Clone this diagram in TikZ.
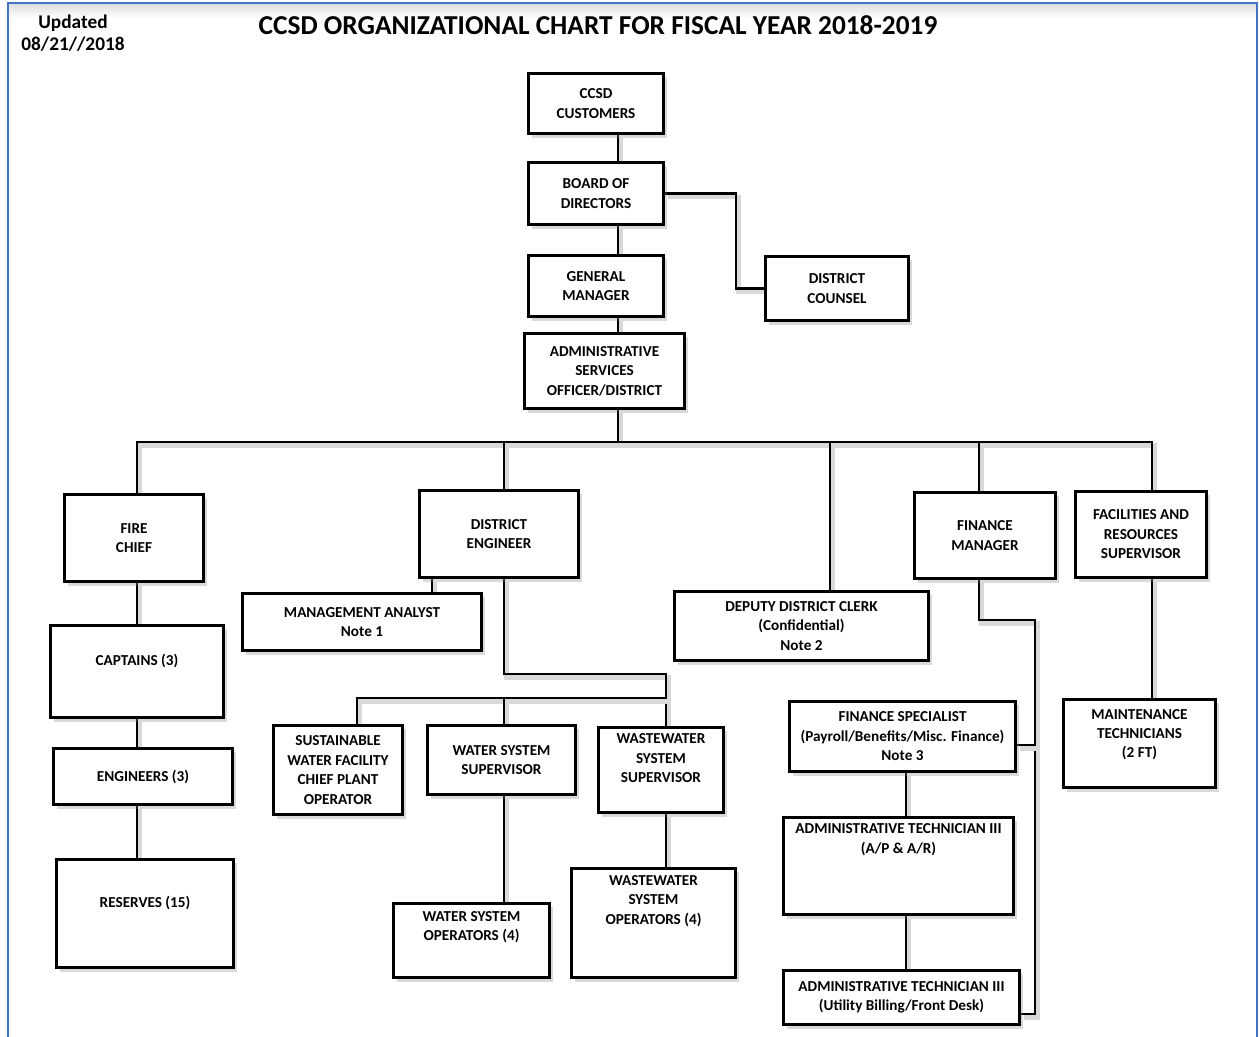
\documentclass[tikz,border=0pt]{standalone}
\usepackage{fontspec}
\setmainfont{Carlito}
\usepackage{tikz}
\usetikzlibrary{backgrounds}
\usetikzlibrary{shapes,shadows,calc}

\definecolor{frameblue}{RGB}{68,114,196}

\begin{document}
\begin{tikzpicture}[x=0.75pt, y=-0.75pt, line join=miter, font=\bfseries\fontsize{11.4}{14.6}\selectfont]
 % Define block styles
	\tikzstyle{block} = [rectangle, draw, line width=2.2pt, fill=white, align=center, inner sep=2pt, drop shadow={shadow xshift=2.5pt, shadow yshift=-3pt, opacity=0.3}]
	\tikzstyle{line} = [draw, line width=2.2pt, preaction={draw=black!15, line width=3.5pt, transform canvas={shift={(2pt,-2.5pt)}}}]
	\tikzset{boxsize/.style 2 args={minimum width=#1*0.75pt-2.2pt, minimum height=#2*0.75pt-2.2pt},
		lift/.style={text depth=#1}}
%%====Cornice e titolo===============================================================
	\useasboundingbox (0,0) rectangle (1259,1036);
	\shade [top color=black!13, bottom color=white] (9,4) rectangle (1256,18);
	\draw [frameblue, line width=1.6pt] (8,1040) -- (8,3) -- (1257,3) -- (1257,1040);
	\node (title) at (598,25) {\fontsize{20.5}{24}\selectfont CCSD ORGANIZATIONAL CHART FOR FISCAL YEAR 2018-2019};
	\node [align=center, font=\bfseries\fontsize{14.5}{17}\selectfont] (updated) at (73,33) {Updated\\08/21//2018};
%%====Definizione stati e posizione===============================================================
	\node [block, boxsize={138}{63}] (cust) at (596,103.5) {CCSD\\CUSTOMERS};
	\node [block, boxsize={138}{65}] (board) at (596,193.5) {BOARD OF\\DIRECTORS};
	\node [block, boxsize={138}{64}] (gm) at (596,286) {GENERAL\\MANAGER};
	\node [block, boxsize={163}{78}] (aso) at (604.5,371) {ADMINISTRATIVE\\SERVICES\\OFFICER/DISTRICT};
	\node [block, boxsize={146}{67}] (counsel) at (837,288.5) {DISTRICT\\COUNSEL};
	% fire
	\node [block, boxsize={142}{90}] (fire) at (134,538) {FIRE\\CHIEF};
	\node [block, boxsize={176}{95}, lift=17pt] (capt) at (137,671.5) {CAPTAINS (3)};
	\node [block, boxsize={182}{59}] (eng) at (143,776.5) {ENGINEERS (3)};
	\node [block, boxsize={180}{111}, lift=17pt] (res) at (145,913.5) {RESERVES (15)};
	% engineering
	\node [block, boxsize={162}{90}] (de) at (499,534) {DISTRICT\\ENGINEER};
	\node [block, boxsize={242}{60}] (ma) at (362,622) {MANAGEMENT ANALYST\\Note 1};
	\node [block, boxsize={132}{92}] (swf) at (338,770) {SUSTAINABLE\\WATER FACILITY\\CHIEF PLANT\\OPERATOR};
	\node [block, boxsize={151}{72}] (wss) at (501.5,760) {WATER SYSTEM\\SUPERVISOR};
	\node [block, boxsize={128}{88}, lift=18pt] (wwss) at (661,770) {WASTEWATER\\SYSTEM\\SUPERVISOR};
	\node [block, boxsize={159}{77}, lift=22pt] (wso) at (471.5,940.5) {WATER SYSTEM\\OPERATORS (4)};
	\node [block, boxsize={167}{112}, lift=35pt] (wwso) at (653.5,923) {WASTEWATER\\SYSTEM\\OPERATORS (4)};
	% clerk, finance, facilities
	\node [block, boxsize={257}{72}] (ddc) at (801.5,626) {DEPUTY DISTRICT CLERK\\(Confidential)\\Note 2};
	\node [block, boxsize={144}{89}] (fm) at (985,535.5) {FINANCE\\MANAGER};
	\node [block, boxsize={134}{89}] (fac) at (1141,534.5) {FACILITIES AND\\RESOURCES\\SUPERVISOR};
	\node [block, boxsize={229}{73}] (fs) at (902.5,736.5) {FINANCE SPECIALIST\\(Payroll/Benefits/Misc. Finance)\\Note 3};
	\node [block, boxsize={155}{91}, lift=15pt] (mt) at (1139.5,743.5) {MAINTENANCE\\TECHNICIANS\\(2 FT)};
	\node [block, boxsize={233}{100}, lift=41pt] (at1) at (898.5,866) {ADMINISTRATIVE TECHNICIAN III\\(A/P \& A/R)};
	\node [block, boxsize={239}{57}] (at2) at (901.5,997.5) {ADMINISTRATIVE TECHNICIAN III\\(Utility Billing/Front Desk)};
%%====Collegamenti===============================================================
	\coordinate (spine) at (618,0);
	\coordinate (cbend) at (736,0);
	\coordinate (bus) at (0,442);
	\coordinate (cfire) at (137,0);
	\coordinate (ceng) at (504,0);
	\coordinate (cma) at (432,0);
	\coordinate (csus) at (357,0);
	\coordinate (cww) at (666,0);
	\coordinate (knee) at (0,674);
	\coordinate (bus2) at (0,698);
	\coordinate (cclerk) at (830,0);
	\coordinate (cfin) at (979,0);
	\coordinate (cfinbus) at (1035,0);
	\coordinate (fknee) at (0,620);
	\coordinate (fbranch) at (0,745);
	\coordinate (fend) at (0,1014);
	\coordinate (cadm) at (906,0);
	\coordinate (cfac) at (1152,0);
	\begin{scope}[on background layer]
	\path [line] (cust.south -| spine) -- (board.north -| spine);
	\path [line] (board.south -| spine) -- (gm.north -| spine);
	\path [line] (gm.south -| spine) -- (aso.north -| spine);
	\path [line] (board.east) -| (cbend |- counsel.west) -- (counsel.west);
	\path [line] (aso.south -| spine) -- (bus -| spine);
	\path [line] (fire.north -| cfire) -- (bus -| cfire) -- (bus -| cfac) -- (fac.north -| cfac);
	\path [line] (bus -| ceng) -- (de.north -| ceng);
	\path [line] (bus -| cclerk) -- (ddc.north -| cclerk);
	\path [line] (bus -| cfin) -- (fm.north -| cfin);
	% fire
	\path [line] (fire.south -| cfire) -- (capt.north -| cfire);
	\path [line] (capt.south -| cfire) -- (eng.north -| cfire);
	\path [line] (eng.south -| cfire) -- (res.north -| cfire);
	% engineering
	\path [line] (de.south -| cma) -- (ma.north -| cma);
	\path [line] (de.south -| ceng) -- (knee -| ceng) -- (knee -| cww) -- (wwss.north -| cww);
	\path [line] (swf.north -| csus) -- (bus2 -| csus) -- (bus2 -| cww);
	\path [line] (bus2 -| ceng) -- (wss.north -| ceng);
	\path [line] (wss.south -| ceng) -- (wso.north -| ceng);
	\path [line] (wwss.south -| cww) -- (wwso.north -| cww);
	% finance
	\path [line] (fm.south -| cfin) -- (fknee -| cfin) -- (fknee -| cfinbus) -- (fend -| cfinbus) -- (fend -| at2.east);
	\path [line] (fbranch -| fs.east) -- (fbranch -| cfinbus);
	\path [line] (fs.south -| cadm) -- (at1.north -| cadm);
	\path [line] (at1.south -| cadm) -- (at2.north -| cadm);
	\path [line] (fac.south -| cfac) -- (mt.north -| cfac);
	\end{scope}
\end{tikzpicture}
\end{document}
